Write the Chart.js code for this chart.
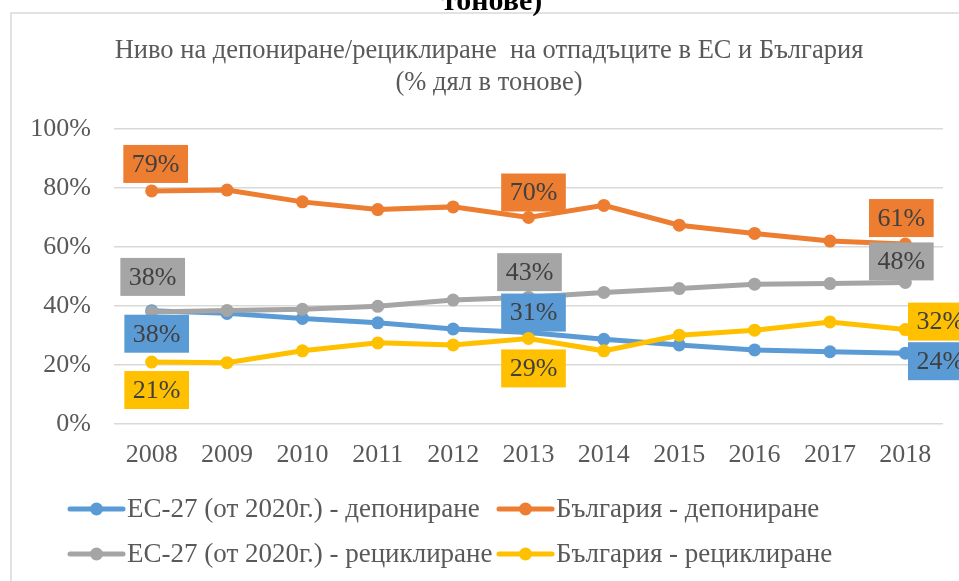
<!DOCTYPE html>
<html>
<head>
<meta charset="utf-8">
<script src="https://cdn.jsdelivr.net/npm/chart.js@4.4.1/dist/chart.umd.min.js"></script>
<style>
html,body{margin:0;padding:0;background:#ffffff;}
#wrap{width:959px;height:581px;position:relative;overflow:hidden;}
</style>
</head>
<body>
<div id="wrap"><canvas id="c" width="959" height="581"></canvas></div>
<script>
// ---- data ----
const categories = ['2008','2009','2010','2011','2012','2013','2014','2015','2016','2017','2018'];
const seriesNames = [
  'ЕС-27 (от 2020г.) - депониране',
  'България - депониране',
  'ЕС-27 (от 2020г.) - рециклиране',
  'България - рециклиране'
];
const euLandfill  = [38.4, 37.5, 35.8, 34.3, 32.2, 31.0, 28.7, 26.8, 25.1, 24.5, 24.0];
const bgLandfill  = [79.0, 79.3, 75.3, 72.7, 73.6, 70.0, 74.1, 67.4, 64.6, 62.0, 61.0];
const euRecycling = [38.0, 38.5, 38.9, 39.9, 42.0, 43.0, 44.6, 45.9, 47.4, 47.6, 48.0];
const bgRecycling = [21.0, 20.8, 24.8, 27.5, 26.8, 29.0, 24.8, 30.1, 31.8, 34.6, 32.0];
const yTickValues = [0, 20, 40, 60, 80, 100];
const titleLines = ['Ниво на депониране/рециклиране  на отпадъците в ЕС и България', '(% дял в тонове)'];
const headerFragment = 'тонове)';
const labelledIndices = [0, 5, 10];

// ---- styles ----
const FONT = "'Liberation Serif', 'Times New Roman', serif";
const colors = ['#5B9BD5', '#ED7D31', '#A5A5A5', '#FFC000'];
const drawOrder = [3, 2, 1, 0];
// label box offsets (dx, dy) from the point, per series, per labelled index
const labelOffsets = [
  [[5, 23], [5, -20], [35, 8]],
  [[4, -27], [5, -25], [-4, -26]],
  [[1, -35], [1, -25], [-4, -21]],
  [[5, 28], [5, 30], [35, -8]]
];

const seriesValues = [euLandfill, bgLandfill, euRecycling, bgRecycling];

const datasets = seriesValues.map((vals, i) => ({
  label: seriesNames[i],
  data: vals,
  borderColor: colors[i],
  backgroundColor: colors[i],
  pointBackgroundColor: colors[i],
  pointBorderColor: colors[i],
  pointBorderWidth: 0,
  pointRadius: 6.5,
  pointHoverRadius: 6.5,
  borderWidth: 5,
  tension: 0,
  fill: false,
  order: drawOrder[i]
}));

const frameAndHeader = {
  id: 'frameAndHeader',
  beforeDraw(chart) {
    const ctx = chart.ctx;
    ctx.save();
    ctx.fillStyle = '#ffffff';
    ctx.fillRect(0, 0, chart.width, chart.height);
    ctx.strokeStyle = '#d9d9d9';
    ctx.lineWidth = 1.5;
    ctx.strokeRect(11, 13, 1200, 800);
    ctx.fillStyle = '#000000';
    ctx.font = 'bold 30px ' + FONT;
    ctx.textAlign = 'center';
    ctx.textBaseline = 'alphabetic';
    ctx.fillText(headerFragment, 492, 10);
    ctx.fillStyle = '#595959';
    ctx.font = '26.5px ' + FONT;
    ctx.textBaseline = 'middle';
    ctx.fillText(titleLines[0], 489, 51);
    ctx.fillText(titleLines[1], 489, 83);
    ctx.restore();
  }
};

const dataLabels = {
  id: 'dataLabels',
  afterDatasetsDraw(chart) {
    const ctx = chart.ctx;
    ctx.save();
    ctx.font = '26px ' + FONT;
    ctx.textAlign = 'center';
    ctx.textBaseline = 'middle';
    seriesValues.forEach((vals, si) => {
      const meta = chart.getDatasetMeta(si);
      labelledIndices.forEach((idx, k) => {
        const pt = meta.data[idx];
        const [dx, dy] = labelOffsets[si][k];
        const txt = Math.round(vals[idx]) + '%';
        const w = ctx.measureText(txt).width + 17;
        const h = 38;
        const cx = pt.x + dx, cy = pt.y + dy;
        ctx.fillStyle = colors[si];
        ctx.fillRect(cx - w / 2, cy - h / 2, w, h);
        ctx.fillStyle = '#404040';
        ctx.fillText(txt, cx, cy + 1);
      });
    });
    ctx.restore();
  }
};

const customLegend = {
  id: 'customLegend',
  afterDraw(chart) {
    const ctx = chart.ctx;
    const cols = [68, 497];
    const rows = [509, 554];
    ctx.save();
    ctx.font = '27px ' + FONT;
    ctx.textBaseline = 'middle';
    ctx.textAlign = 'left';
    seriesNames.forEach((name, i) => {
      const x = cols[i % 2], y = rows[Math.floor(i / 2)];
      ctx.strokeStyle = colors[i];
      ctx.lineWidth = 5;
      ctx.lineCap = 'round';
      ctx.beginPath();
      ctx.moveTo(x + 2, y);
      ctx.lineTo(x + 55, y);
      ctx.stroke();
      ctx.fillStyle = colors[i];
      ctx.beginPath();
      ctx.arc(x + 28.5, y, 6.5, 0, Math.PI * 2);
      ctx.fill();
      ctx.fillStyle = '#595959';
      ctx.fillText(name, x + 59, y + 1);
    });
    ctx.restore();
  }
};

new Chart(document.getElementById('c'), {
  type: 'line',
  data: { labels: categories, datasets },
  options: {
    responsive: false,
    animation: false,
    layout: { padding: { left: 0, right: 16, top: 129, bottom: 0 } },
    plugins: {
      legend: { display: false },
      tooltip: { enabled: false },
      title: { display: false }
    },
    scales: {
      x: {
        offset: true,
        grid: { display: false, drawTicks: false },
        border: { display: false },
        ticks: { color: '#595959', font: { family: FONT, size: 26 }, padding: 16, maxRotation: 0, autoSkip: false },
        afterFit(scale) { scale.height = 157; }
      },
      y: {
        min: 0,
        max: 100,
        afterBuildTicks(scale) { scale.ticks = yTickValues.map(v => ({ value: v })); },
        grid: { color: '#d9d9d9', lineWidth: 1.5, drawTicks: false },
        border: { display: false },
        ticks: { color: '#595959', font: { family: FONT, size: 26 }, padding: 23, callback: v => v + '%' },
        afterFit(scale) { scale.width = 114; }
      }
    }
  },
  plugins: [frameAndHeader, dataLabels, customLegend]
});
</script>
</body>
</html>
